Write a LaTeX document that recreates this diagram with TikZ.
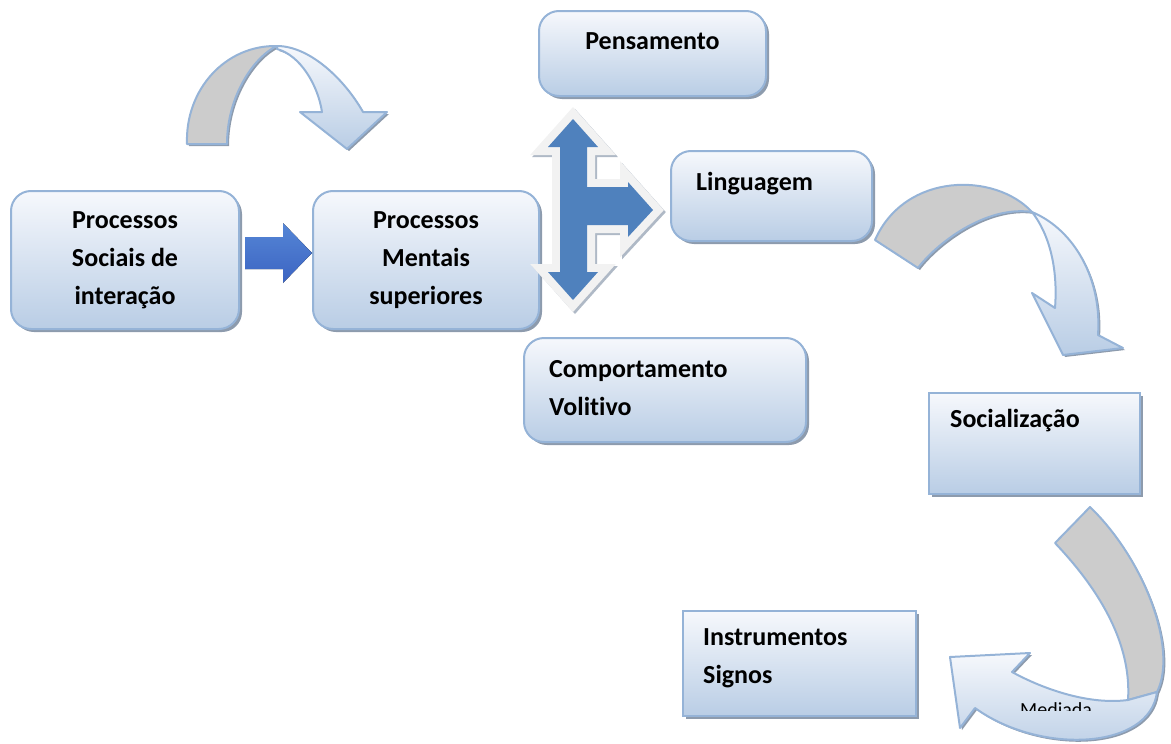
\documentclass[tikz,border=0pt]{standalone}
\usepackage{fontspec}
\setmainfont[Ligatures=NoCommon]{Carlito}
\usetikzlibrary{shadows}

\definecolor{boxline}{HTML}{95B3D7}
\definecolor{boxtop}{HTML}{F6F8FC}
\definecolor{boxbottom}{HTML}{B9CDE5}
\definecolor{boxshadow}{HTML}{8D9BAD}
\definecolor{ribbongray}{HTML}{CCCCCC}
\definecolor{arrowblue}{HTML}{4F81BD}
\definecolor{arrowrim}{HTML}{F2F2F2}
\definecolor{smalltop}{HTML}{5586D6}
\definecolor{smallbottom}{HTML}{3C64C2}

\begin{document}
\begin{tikzpicture}[x=1pt,y=-1pt,
  box/.style={draw=boxline,line width=2pt,top color=boxtop,bottom color=boxbottom,
    general shadow={fill=boxshadow,shadow xshift=3pt,shadow yshift=-3pt},inner sep=0pt},
  roundbox/.style={box,rounded corners=20pt},
  boxtext/.style={font=\fontsize{26}{38}\selectfont\bfseries,inner sep=0pt,align=left},
  back/.style={draw=boxline,line width=2pt,fill=ribbongray,line join=round,
    general shadow={fill=boxshadow,shadow xshift=2pt,shadow yshift=-2pt}},
  front/.style={draw=boxline,line width=2pt,top color=boxtop,bottom color=boxbottom,line join=round,
    general shadow={fill=boxshadow,shadow xshift=2pt,shadow yshift=-2pt}}]
\useasboundingbox (0,0) rectangle (1171,744);

% caixas
\node[roundbox,minimum width=228pt,minimum height=138pt,boxtext,align=center] (sociais) at (125,260) {Processos\\Sociais de\\interação};
\node[roundbox,minimum width=226pt,minimum height=138pt,boxtext,align=center] (mentais) at (426,260) {Processos\\Mentais\\superiores};
\node[roundbox,minimum width=227pt,minimum height=85pt] (pensamento) at (652.5,53.5) {};
\node[roundbox,minimum width=201pt,minimum height=90pt] (linguagem) at (771.5,196) {};
\node[roundbox,minimum width=282pt,minimum height=104pt] (comportamento) at (665,390) {};
\node[box,minimum width=211pt,minimum height=101pt] (socializacao) at (1034.5,443.5) {};
\node[box,minimum width=233pt,minimum height=105pt] (instrumentos) at (799.5,663.5) {};

\node[boxtext,anchor=base] (pensamento-txt) at (652.5,49) {Pensamento};
\node[boxtext,anchor=base west] (linguagem-txt) at (696,190) {Linguagem};
\node[boxtext,anchor=base west] (comportamento-txt) at (549,415) {Comportamento\\Volitivo};
\node[boxtext,anchor=base west] (socializacao-txt) at (950,427) {Socialização};
\node[boxtext,anchor=base west] (instrumentos-txt) at (703,683) {Instrumentos\\Signos};

% seta entre as caixas
\fill[top color=smalltop,bottom color=smallbottom] (245,237) -- (283,237) -- (283,223) -- (312,253)
  -- (283,283) -- (283,269) -- (245,269) -- cycle;

% seta tripla
\fill[arrowblue,
  preaction={draw=boxshadow!70,line width=16pt,transform canvas={xshift=2pt,yshift=-2pt}},
  preaction={draw=arrowrim,line width=16pt}]
  (573,119) -- (598,147) -- (587,147) -- (587,187) -- (628,187) -- (628,182) -- (653,210)
  -- (628,237) -- (628,225) -- (587,225) -- (587,272) -- (598,272) -- (573,300)
  -- (548,272) -- (560,272) -- (560,147) -- (548,147) -- cycle;

% setas curvas
\draw[back] (187,144) .. controls (185,90) and (225,45) .. (277,46)
  .. controls (255,56) and (227,95) .. (227,144) -- cycle;
\draw[front] (277,46) .. controls (310,46) and (345,80) .. (363,112)
  -- (387,112) -- (347,149) -- (300,112) -- (322,112)
  .. controls (318,85) and (300,55) .. (277,49) -- cycle;

\draw[back] (875,240) -- (918,268) .. controls (935,245) and (985,205) .. (1032,212)
  .. controls (995,172) and (905,172) .. (875,240) -- cycle;
\draw[front] (1032,212) .. controls (1075,230) and (1102,280) .. (1098,335)
  -- (1123,348) -- (1063,355) -- (1032,293) -- (1055,308)
  .. controls (1058,270) and (1050,235) .. (1032,212) -- cycle;

\draw[back] (1055,543) -- (1090,507) .. controls (1145,560) and (1178,650) .. (1157,692)
  -- (1128,700) .. controls (1132,640) and (1095,585) .. (1055,543) -- cycle;
\draw[front] (1128,700) .. controls (1090,705) and (1045,690) .. (1012,672)
  -- (1030,653) -- (950,657) -- (960,728) -- (975,708)
  .. controls (1040,755) and (1150,750) .. (1157,692) -- cycle;

\begin{scope}
\clip (1000,690) rectangle (1110,710.5);
\node[font=\fontsize{20}{24}\selectfont,inner sep=0pt,anchor=base west] (mediada) at (1020,716) {Mediada};
\end{scope}
\end{tikzpicture}
\end{document}
